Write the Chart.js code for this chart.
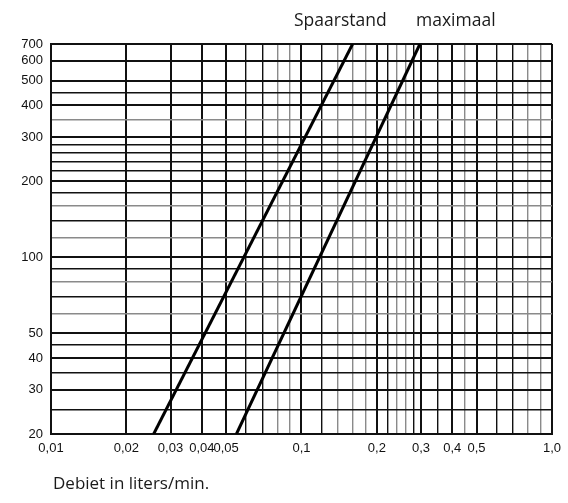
<!DOCTYPE html>
<html>
<head>
<meta charset="utf-8">
<script src="https://cdn.jsdelivr.net/npm/chart.js@4/dist/chart.umd.min.js"></script>
<style>
  body { margin: 0; background: #fff; }
  #wrap { width: 568px; height: 503px; }
</style>
</head>
<body>
<div id="wrap"><canvas id="chartDebiet"></canvas></div>
<script>
// debiet (l/min) grid + labels
const xGrid = [0.01, 0.02, 0.03, 0.04, 0.05, 0.06, 0.07, 0.08, 0.09, 0.1,
    0.12, 0.14, 0.16, 0.18, 0.2, 0.22, 0.24, 0.26, 0.28, 0.3,
    0.35, 0.4, 0.45, 0.5, 0.6, 0.7, 0.8, 0.9, 1.0]
const xLabelValues = [0.01, 0.02, 0.03, 0.04, 0.05, 0.1, 0.2, 0.3, 0.4, 0.5, 1.0]
const xLabels = ['0,01', '0,02', '0,03', '0,04', '0,05', '0,1', '0,2', '0,3', '0,4', '0,5', '1,0']
const xGray = [0.08, 0.09, 0.14, 0.16, 0.18, 0.24, 0.26, 0.45, 0.8, 0.9]

// vertical axis grid + labels
const yGrid = [20, 25, 30, 35, 40, 45, 50, 60, 70, 80, 90, 100, 120, 140, 160, 180,
    200, 220, 240, 260, 280, 300, 350, 400, 450, 500, 600, 700]
const yLabelValues = [20, 30, 40, 50, 100, 200, 300, 400, 500, 600, 700]
const yGray = [60, 80, 120, 160, 350]

// the two curves (debiet, value)
const spaarstandX = [0.0257, 0.16]
const spaarstandY = [20, 700]
const maximaalX = [0.055, 0.297]
const maximaalY = [20, 700]

const toPoints = (xs, ys) => xs.map((x, i) => ({ x: x, y: ys[i] }))

const textLabels = {
    id: 'textLabels',
    afterDraw(chart) {
        const ctx = chart.ctx
        ctx.save()
        ctx.fillStyle = '#1a1a1a'
        ctx.textBaseline = 'alphabetic'
        ctx.font = '17.5px "Open Sans"'
        ctx.fillText('Spaarstand', 294, 26)
        ctx.fillText('maximaal', 416, 26)
        ctx.font = '17px "Open Sans"'
        ctx.fillText('Debiet in liters/min.', 53, 489)
        ctx.restore()
    }
}

const gridColor = (gray) => (c) => gray.includes(c.tick.value) ? '#8a8a8a' : '#111'
const gridWidth = (labelled) => (c) => labelled.includes(c.tick.value) ? 2 : 1.4

new Chart(document.getElementById('chartDebiet'), {
    type: 'line',
    data: {
        datasets: [{
            label: 'Spaarstand',
            data: toPoints(spaarstandX, spaarstandY),
            borderColor: '#000',
            borderWidth: 3,
            pointRadius: 0
        }, {
            label: 'maximaal',
            data: toPoints(maximaalX, maximaalY),
            borderColor: '#000',
            borderWidth: 3,
            pointRadius: 0
        }]
    },
    options: {
        responsive: true,
        maintainAspectRatio: false,
        animation: false,
        layout: { padding: { top: 44, right: 16, bottom: 39, left: 0 } },
        plugins: {
            legend: { display: false },
            tooltip: { enabled: false }
        },
        scales: {
            x: {
                type: 'logarithmic',
                min: 0.01,
                max: 1.0,
                afterBuildTicks: (scale) => { scale.ticks = xGrid.map(v => ({ value: v })) },
                afterFit: (scale) => { scale.height = 30 },
                grid: {
                    color: gridColor(xGray),
                    lineWidth: gridWidth(xLabelValues),
                    drawTicks: false
                },
                border: { display: true, color: '#111', width: 2 },
                ticks: {
                    autoSkip: false,
                    maxRotation: 0,
                    padding: 7,
                    color: '#111',
                    font: { family: 'Liberation Sans', size: 13 },
                    callback: (v) => {
                        const i = xLabelValues.indexOf(v)
                        return i >= 0 ? xLabels[i] : ''
                    }
                }
            },
            y: {
                type: 'logarithmic',
                min: 20,
                max: 700,
                afterBuildTicks: (scale) => { scale.ticks = yGrid.map(v => ({ value: v })) },
                afterFit: (scale) => { scale.width = 51 },
                grid: {
                    color: gridColor(yGray),
                    lineWidth: gridWidth(yLabelValues),
                    drawTicks: false
                },
                border: { display: true, color: '#111', width: 2 },
                ticks: {
                    autoSkip: false,
                    padding: 8,
                    color: '#111',
                    font: { family: 'Liberation Sans', size: 13 },
                    callback: (v) => yLabelValues.includes(v) ? String(v) : ''
                }
            }
        }
    },
    plugins: [textLabels]
});
</script>
</body>
</html>
